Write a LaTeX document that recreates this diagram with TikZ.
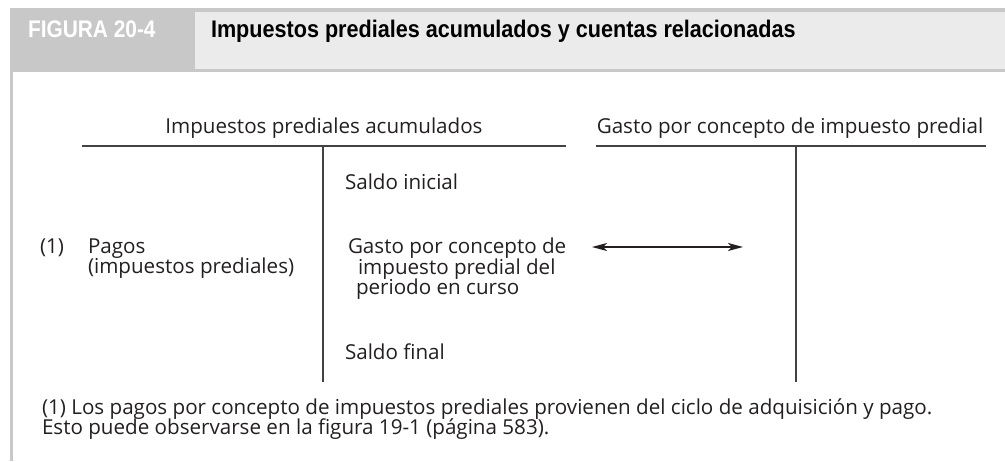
\documentclass[tikz,border=0pt]{standalone}
\usepackage{fontspec}
\setmainfont{Open Sans}
\newfontfamily\hdrfont[FakeStretch=0.9]{Liberation Sans}
\newfontfamily\tabfont[FakeStretch=0.87]{Liberation Sans}
\usetikzlibrary{arrows.meta}
\definecolor{tabgray}{HTML}{C8C8C8}
\definecolor{bandgray}{HTML}{EBEBEB}
\definecolor{ink}{HTML}{231F20}
\tikzset{
  txt/.style={anchor=base west, inner sep=0pt, outer sep=0pt, text=ink, font=\fontsize{20.6}{21}\selectfont},
  hdr/.style={anchor=base west, inner sep=0pt, outer sep=0pt, font=\hdrfont\bfseries\fontsize{24}{26}\selectfont},
  rule/.style={draw=ink!85, line width=1.3pt},
  link/.style={draw=ink, line width=1.1pt, {Stealth[length=15pt,width=8pt,inset=4pt]}-{Stealth[length=15pt,width=8pt,inset=4pt]}}
}
\begin{document}
\begin{tikzpicture}[x=1pt,y=-1pt]
\useasboundingbox (0,0) rectangle (1005,461);
% header
\fill[tabgray] (10,8) rectangle (195,72);
\fill[tabgray] (195,8) rectangle (1005,72);
\fill[bandgray] (195,12) rectangle (1005,69);
\fill[tabgray] (10,72) rectangle (13,461);
\node[hdr, text=white, font=\tabfont\bfseries\fontsize{24}{26}\selectfont] (fig) at (28,37) {FIGURA 20-4};
\node[hdr, text=black] (title) at (211,37) {Impuestos prediales acumulados y cuentas relacionadas};
% T-account 1
\node[txt, anchor=base] (h1) at (324,133) {Impuestos prediales acumulados};
\coordinate (t1l) at (82,146);
\coordinate (t1r) at (566,146);
\coordinate (t1t) at (323,146);
\coordinate (t1b) at (323,382);
\draw[rule] (t1l) -- (t1r);
\draw[rule] (t1t) -- (t1b);
% T-account 2
\node[txt, anchor=base] (h2) at (790,133) {Gasto por concepto de impuesto predial};
\coordinate (t2l) at (596,146);
\coordinate (t2r) at (986,146);
\coordinate (t2t) at (796,146);
\coordinate (t2b) at (796,382);
\draw[rule] (t2l) -- (t2r);
\draw[rule] (t2t) -- (t2b);
% entries
\node[txt] (si) at (345,189) {Saldo inicial};
\node[txt] (n1) at (40,253) {(1)};
\node[txt] (pag1) at (88,253) {Pagos};
\node[txt] (pag2) at (88,273) {(impuestos prediales)};
\node[txt] (g1) at (348,253) {Gasto por concepto de};
\node[txt] (g2) at (358,274) {impuesto predial del};
\node[txt] (g3) at (356,294) {periodo en curso};
\node[txt] (sf) at (345,359) {Saldo final};
\coordinate (al) at (592,247);
\coordinate (ar) at (743,247);
\draw[link] (al) -- (ar);
% footnote
\node[txt] (f1) at (42,414) {(1) Los pagos por concepto de impuestos prediales provienen del ciclo de adquisición y pago.};
\node[txt] (f2) at (42,434) {Esto puede observarse en la figura 19-1 (página 583).};
\end{tikzpicture}
\end{document}
